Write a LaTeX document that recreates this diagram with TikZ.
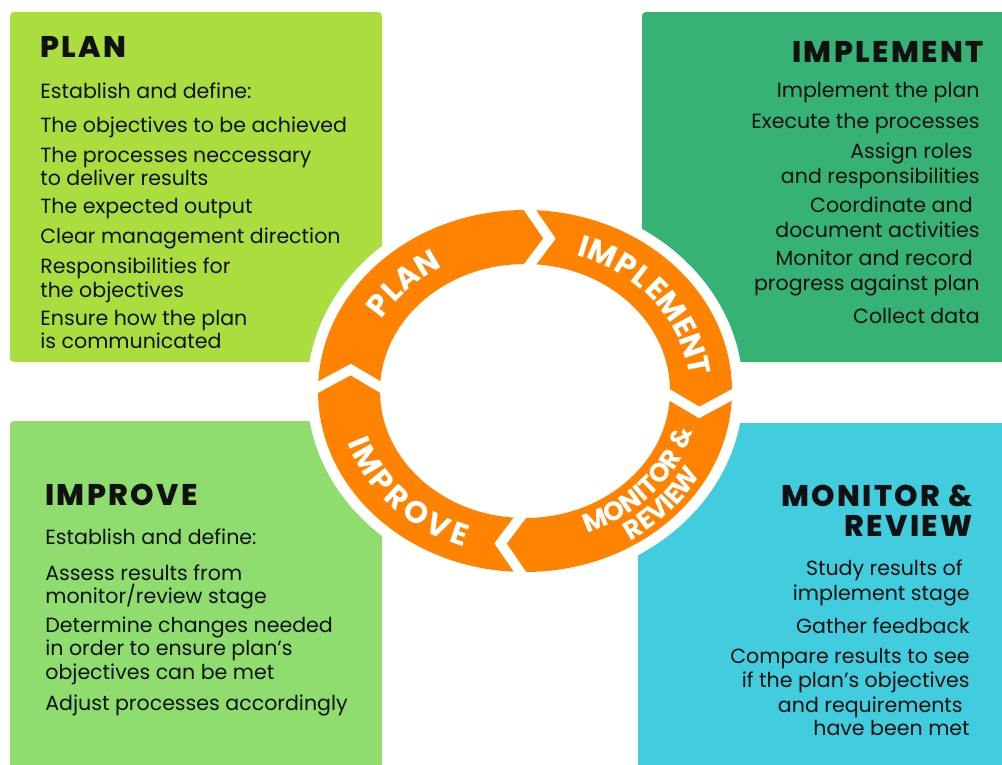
\documentclass[tikz,border=0pt]{standalone}
\usepackage{fontspec}
\newfontfamily\bodyfont{Poppins}
\newfontfamily\titlefont{Poppins}[BoldFont={Poppins ExtraBold}, LetterSpace=8]
\newfontfamily\ringfont{Poppins}
\usetikzlibrary{shapes,arrows,positioning,calc}
\definecolor{planlime}{RGB}{170,222,62}
\definecolor{implementgreen}{RGB}{54,178,116}
\definecolor{improvegreen}{RGB}{142,221,110}
\definecolor{monitorcyan}{RGB}{66,205,222}
\definecolor{cycleorange}{RGB}{255,131,0}
\definecolor{inkblack}{RGB}{17,17,17}
\tikzset{
    % Quadrant panel styles
    panel/.style={rounded corners=2.3pt},
    heading/.style={
        font=\titlefont\bfseries\fontsize{17}{19}\selectfont,
        text=inkblack, inner sep=0pt
    },
    itemleft/.style={
        anchor=base west, inner sep=0pt, text=inkblack,
        font=\bodyfont\fontsize{11.7}{13}\selectfont
    },
    itemright/.style={itemleft, anchor=base east},
    % Cycle ring styles
    chevron/.style={white, line width=5.7pt, line join=miter},
    ringletter/.style={
        anchor=base, inner sep=0pt, text=white,
        font=\ringfont\bfseries\fontsize{17.5}{17.5}\selectfont
    },
    ringsmall/.style={ringletter, font=\ringfont\bfseries\fontsize{15}{15}\selectfont}
}

\begin{document}
\begin{tikzpicture}[x=0.02cm, y=0.02cm]
\useasboundingbox (0,0) rectangle (1002,-765);
\clip (0,0) rectangle (1002,-765);

% Quadrant panels
\fill[panel, planlime] (10,-12) rectangle (382,-362);
\fill[panel, implementgreen] (642,-12) rectangle (1012,-362);
\fill[panel, improvegreen] (10,-421) rectangle (382,-780);
\fill[panel, monitorcyan] (638,-423) rectangle (1012,-780);

% Plan panel
\node[heading, anchor=base west] (plantitle) at (40,-57) {PLAN};
\node[itemleft] (plan1) at (40,-98) {Establish and define:};
\node[itemleft] (plan2) at (40,-132) {The objectives to be achieved};
\node[itemleft] (plan3) at (40,-162) {The processes neccessary};
\node[itemleft] (plan4) at (40,-185) {to deliver results};
\node[itemleft] (plan5) at (40,-213) {The expected output};
\node[itemleft] (plan6) at (40,-243) {Clear management direction};
\node[itemleft] (plan7) at (40,-273) {Responsibilities for};
\node[itemleft] (plan8) at (40,-297) {the objectives};
\node[itemleft] (plan9) at (40,-325) {Ensure how the plan};
\node[itemleft] (plan10) at (40,-348) {is communicated};

% Implement panel
\node[heading, anchor=base east] (impltitle) at (984,-62) {IMPLEMENT};
\node[itemright] (impl1) at (980,-97) {Implement the plan};
\node[itemright] (impl2) at (980,-128) {Execute the processes};
\node[itemright] (impl3) at (973,-158) {Assign roles};
\node[itemright] (impl4) at (980,-183) {and responsibilities};
\node[itemright] (impl5) at (973,-212) {Coordinate and};
\node[itemright] (impl6) at (980,-237) {document activities};
\node[itemright] (impl7) at (973,-265) {Monitor and record};
\node[itemright] (impl8) at (980,-290) {progress against plan};
\node[itemright] (impl9) at (980,-323) {Collect data};

% Improve panel
\node[heading, anchor=base west] (imprtitle) at (45,-505) {IMPROVE};
\node[itemleft] (impr1) at (45,-544) {Establish and define:};
\node[itemleft] (impr2) at (45,-580) {Assess results from};
\node[itemleft] (impr3) at (45,-603) {monitor/review stage};
\node[itemleft] (impr4) at (45,-632) {Determine changes needed};
\node[itemleft] (impr5) at (45,-655) {in order to ensure plan’s};
\node[itemleft] (impr6) at (45,-679) {objectives can be met};
\node[itemleft] (impr7) at (45,-710) {Adjust processes accordingly};

% Monitor & review panel
\node[heading, anchor=base east] (montitle1) at (973,-506) {MONITOR \&};
\node[heading, anchor=base east] (montitle2) at (973,-536) {REVIEW};
\node[itemright] (mon1) at (963,-575) {Study results of};
\node[itemright] (mon2) at (970,-600) {implement stage};
\node[itemright] (mon3) at (970,-633) {Gather feedback};
\node[itemright] (mon4) at (970,-663) {Compare results to see};
\node[itemright] (mon5) at (970,-687) {if the plan’s objectives};
\node[itemright] (mon6) at (963,-712) {and requirements};
\node[itemright] (mon7) at (970,-735) {have been met};

% Orange cycle ring
\coordinate (hub) at (525,-391);
\fill[white] (hub) ellipse [x radius=218, y radius=192];
\fill[cycleorange, even odd rule] (hub) ellipse [x radius=207, y radius=181]
    (hub) ellipse [x radius=145, y radius=127];

\begin{scope}[shift={(hub)}]
% White chevrons between stages
\foreach \a in {90,0,-90,180}
    \draw[chevron] (\a:214 and 188) -- (\a-8:176 and 154) -- (\a:138 and 120);

% Stage names on the ring, one letter at a time
\foreach \ch/\t [count=\i] in {P/146.4, L/139.7, A/132.4, N/124.1}
    \node[ringletter, rotate={atan2(165*sin(\t),143*cos(\t))-90}] (ringplan\i) at (\t:165 and 143) {\ch};
\foreach \ch/\t [count=\i] in {I/70.2, M/63.4, P/54.7, L/47.9, E/41.3, M/33.0, E/24.6, N/17.0, T/9.4}
    \node[ringletter, rotate={atan2(165*sin(\t),143*cos(\t))-90}] (ringimpl\i) at (\t:165 and 143) {\ch};
\foreach \ch/\t [count=\i] in {M/-65.0, O/-57.5, N/-50.5, I/-45.7, T/-41.5, O/-35.2, R/-28.6, {\&}/-19.1}
    \node[ringsmall, rotate={atan2(174*sin(\t),152*cos(\t))+90}] (ringmon\i) at (\t:174 and 152) {\ch};
\foreach \ch/\t [count=\i] in {R/-55.5, E/-50.6, V/-45.7, I/-41.8, E/-38.3, W/-32.5}
    \node[ringsmall, rotate={atan2(199*sin(\t),177*cos(\t))+90}] (ringrev\i) at (\t:199 and 177) {\ch};
\foreach \ch/\t [count=\i] in {I/199.9, M/207.0, P/215.9, R/223.7, O/232.2, V/240.9, E/248.5}
    \node[ringletter, rotate={atan2(187*sin(\t),165*cos(\t))+90}] (ringimpr\i) at (\t:187 and 165) {\ch};
\end{scope}

\end{tikzpicture}
\end{document}
